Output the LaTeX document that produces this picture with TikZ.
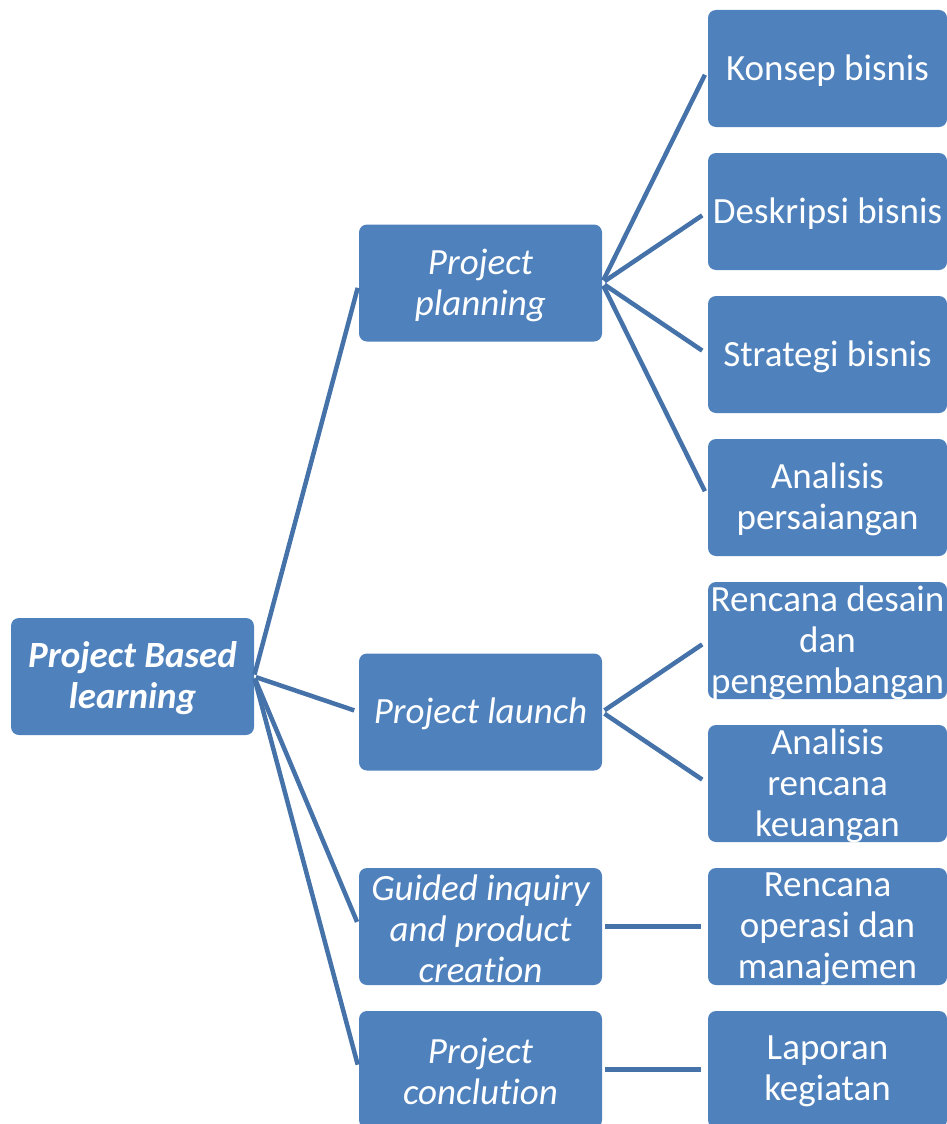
\documentclass[tikz,border=0pt]{standalone}
\usepackage{fontspec}
\setmainfont{Carlito}[Ligatures=NoCommon]
\usetikzlibrary{positioning}
\definecolor{boxblue}{RGB}{79,129,189}
\definecolor{linkblue}{RGB}{69,114,168}

\begin{document}
\begin{tikzpicture}[x=1pt,y=-1pt,node distance=26pt,
		box/.style={rectangle,rounded corners=8pt,fill=boxblue,minimum width=243pt,minimum height=117pt,inner sep=0pt,outer sep=0pt},
		leaf/.style={box,minimum width=239pt},
		txt/.style={text=white,align=center,yshift=-2pt,font=\fontsize{37}{41}\selectfont},
		emtxt/.style={txt,font=\fontsize{37}{41}\selectfont\itshape},
		roottxt/.style={txt,font=\fontsize{37}{41}\selectfont\bfseries\itshape},
		link/.style={draw=linkblue,line width=4.5pt}]
			\useasboundingbox (0,0) rectangle (947,1124);
			\clip (0,0) rectangle (947,1124);
			% boxes
			\node[box] (root) at (132.5,676.5) {};
			\node[box] (plan) at (480.5,283) {};
			\node[box] (launch) at (480.5,712) {};
			\node[box] (guided) at (480.5,926.5) {};
			\node[box] (concl) at (480.5,1069.5) {};
			\node[leaf] (konsep) at (827.5,68.5) {};
			\node[leaf] [below=of konsep] (deskripsi) {};
			\node[leaf] [below=of deskripsi] (strategi) {};
			\node[leaf] [below=of strategi] (analisis) {};
			\node[leaf] [below=of analisis] (desain) {};
			\node[leaf] [below=of desain] (keuangan) {};
			\node[leaf] [below=of keuangan] (operasi) {};
			\node[leaf] [below=of operasi] (laporan) {};
			% texts
			\node[roottxt] (root-t) at (root) {Project Based\\learning};
			\node[emtxt] (plan-t) at (plan) {Project\\planning};
			\node[emtxt] (launch-t) at (launch) {Project launch};
			\node[emtxt] (guided-t) at (guided) {Guided inquiry\\and product\\creation};
			\node[emtxt] (concl-t) at (concl) {Project\\conclution};
			\node[txt] (konsep-t) at (konsep) {Konsep bisnis};
			\node[txt] (deskripsi-t) at (deskripsi) {Deskripsi bisnis};
			\node[txt] (strategi-t) at (strategi) {Strategi bisnis};
			\node[txt] (analisis-t) at (analisis) {Analisis\\persaiangan};
			\node[txt] (desain-t) at (desain) {Rencana desain\\dan\\pengembangan};
			\node[txt] (keuangan-t) at (keuangan) {Analisis\\rencana\\keuangan};
			\node[txt] (operasi-t) at (operasi) {Rencana\\operasi dan\\manajemen};
			\node[txt] (laporan-t) at (laporan) {Laporan\\kegiatan};
			% connectors
			\path[link,shorten <=2pt,shorten >=5pt]
				(root.east) edge (plan.west)
				(root.east) edge (launch.west)
				(root.east) edge (guided.west)
				(root.east) edge (concl.west);
			\path[link,shorten <=3pt,shorten >=7pt]
				(plan.east) edge (konsep.west)
				(plan.east) edge (deskripsi.west)
				(plan.east) edge (strategi.west)
				(plan.east) edge (analisis.west)
				(launch.east) edge (desain.west)
				(launch.east) edge (keuangan.west)
				(guided.east) edge (operasi.west)
				(concl.east) edge (laporan.west);
		\end{tikzpicture}
\end{document}
